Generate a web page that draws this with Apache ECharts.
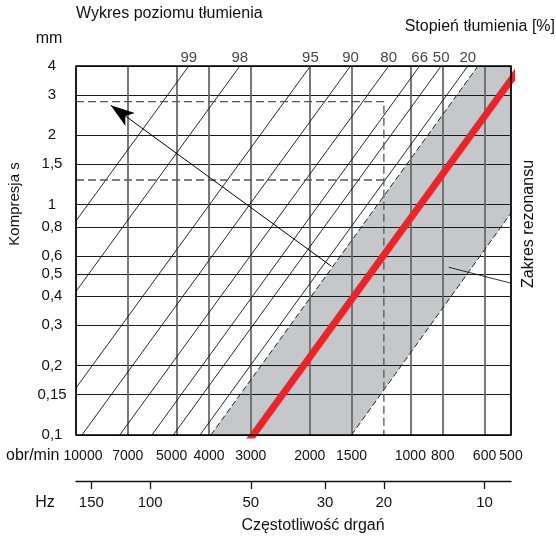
<!DOCTYPE html>
<html><head><meta charset="utf-8">
<script src="https://cdn.jsdelivr.net/npm/echarts@6/dist/echarts.min.js"></script>
<style>html,body{margin:0;padding:0;background:#fff}#c{width:556px;height:538px}</style>
</head><body><div id="c"></div>
<script>
// ---- data ----
const rpmTicks = [10000, 7000, 5000, 4000, 3000, 2000, 1500, 1000, 800, 600, 500];
const hzTicks = [150, 100, 50, 30, 20, 10];
const sTicks = [0.1, 0.15, 0.2, 0.3, 0.4, 0.5, 0.6, 0.8, 1, 1.5, 2, 3, 4];
const hzRange = [8.33, 166.67];
const rpmRange = [500, 10000];
const sRange = [0.1, 4];

const dampLabels = ['99', '98', '95', '90', '80', '66', '50', '20'];
const dampTopRpm = [4600, 3236, 1990, 1510, 1161, 938, 809, 673];
const dampTopS = [4, 4, 4, 4, 4, 4, 4, 4];
const dampEndRpm = [10000, 10000, 10000, 9600, 7400, 5932, 5117, 4257];
const dampEndS = [0.85, 0.42, 0.16, 0.1, 0.1, 0.1, 0.1, 0.1];

const resonanceBand = [[3950, 0.1], [628, 4], [500, 4], [500, 0.92], [1500, 0.1]];
const bandEdgeLeft = [[3950, 0.1], [628, 4]];
const bandEdgeRight = [[1500, 0.1], [500, 0.92]];
const resonanceLine = [[3300, 0.08], [470, 3.94]];
const exampleUpper = [[10000, 2.8], [1200, 2.8], [1200, 0.1]];
const exampleLower = [[10000, 1.28], [1200, 1.28]];
const arrowLine = [[1722, 0.54], [7873, 2.70]];
const leaderLine = [[768, 0.535], [473, 0.447]];

// ---- chart ----
const FONT = 'Liberation Sans, Arial, Helvetica, sans-serif';
const chart = echarts.init(document.getElementById('c'), null, {renderer: 'canvas'});

function comma(v) { return String(v).replace('.', ','); }

const series = [];
series.push({
  type: 'custom', coordinateSystem: 'cartesian2d', xAxisIndex: 0, yAxisIndex: 0,
  z: 1, silent: true,
  data: [resonanceBand[0]],
  renderItem: function (params, api) {
    return {
      type: 'polygon',
      shape: {points: resonanceBand.map(p => api.coord(p))},
      style: {fill: '#c6c7ca', stroke: null}
    };
  }
});
dampLabels.forEach((lab, i) => {
  series.push({
    type: 'line', xAxisIndex: 0, yAxisIndex: 0, z: 3, silent: true,
    symbol: 'none', animation: false,
    lineStyle: {color: '#111', width: 0.9},
    data: [[dampTopRpm[i], dampTopS[i]], [dampEndRpm[i], dampEndS[i]]]
  });
});
series.push({
  type: 'scatter', xAxisIndex: 0, yAxisIndex: 0, z: 3, silent: true, clip: false,
  symbolSize: 0.1, itemStyle: {color: 'rgba(0,0,0,0)'},
  label: {show: true, position: 'top', distance: 1, color: '#111', fontSize: 15, fontFamily: FONT,
    formatter: p => p.value[2]},
  data: dampTopRpm.map((r, i) => [r, dampTopS[i], dampLabels[i]])
});
[bandEdgeLeft, bandEdgeRight].forEach(d => series.push({
  type: 'line', xAxisIndex: 0, yAxisIndex: 0, z: 3, silent: true, symbol: 'none',
  lineStyle: {color: '#222', width: 1, type: [6, 3]}, data: d
}));
[exampleUpper, exampleLower].forEach(d => series.push({
  type: 'line', xAxisIndex: 0, yAxisIndex: 0, z: 3, silent: true, symbol: 'none',
  lineStyle: {color: '#555', width: 1.3, type: [8, 4]}, data: d
}));
series.push({
  type: 'line', xAxisIndex: 0, yAxisIndex: 0, z: 5, silent: true, symbol: 'none',
  lineStyle: {color: '#e8252b', width: 7, cap: 'butt'}, data: resonanceLine
});
series.push({
  type: 'line', xAxisIndex: 0, yAxisIndex: 0, z: 6, silent: true, symbol: 'none',
  lineStyle: {opacity: 0}, data: arrowLine,
  markLine: {
    silent: true, animation: false, symbol: ['none', 'arrow'], symbolSize: [12, 24],
    label: {show: false}, lineStyle: {color: '#000', width: 1, type: 'solid'},
    itemStyle: {color: '#000'},
    emphasis: {disabled: true},
    data: [[{coord: arrowLine[0]}, {coord: arrowLine[1]}]]
  }
});
series.push({
  type: 'line', xAxisIndex: 0, yAxisIndex: 0, z: 6, silent: true, symbol: 'none', clip: false,
  lineStyle: {color: '#000', width: 0.8}, data: leaderLine
});

const option = {
  animation: false,
  backgroundColor: '#fff',
  textStyle: {fontFamily: FONT},
  grid: [
    {left: 76, right: 45, top: 66, height: 369, show: true, borderColor: '#000', borderWidth: 1.5,
      backgroundColor: 'transparent', z: 10},
    {left: 76, right: 45, top: 480, height: 1, show: false}
  ],
  xAxis: [
    {
      gridIndex: 0, type: 'log', logBase: 10, inverse: true, min: rpmRange[0], max: rpmRange[1], z: 2,
      axisLine: {show: false},
      axisTick: {show: false, customValues: rpmTicks},
      axisLabel: {
        customValues: rpmTicks, fontSize: 14, margin: 14, color: '#111', fontFamily: FONT,
        formatter: v => v === 10000 ? '{a|10000}' : (v === 5000 ? '{b|5000}' : String(v)),
        rich: {
          a: {padding: [0, 0, 0, 14], fontSize: 14, fontFamily: FONT, color: '#111'},
          b: {padding: [0, 10, 0, 0], fontSize: 14, fontFamily: FONT, color: '#111'}
        }
      },
      splitLine: {show: true, lineStyle: {color: '#6a6a6a', width: 1.8}}
    },
    {
      gridIndex: 1, type: 'log', logBase: 10, inverse: true, min: hzRange[0], max: hzRange[1],
      axisLine: {show: true, lineStyle: {color: '#111', width: 1.3}},
      axisTick: {show: true, customValues: hzTicks, length: 8, lineStyle: {color: '#111', width: 1.3}},
      axisLabel: {customValues: hzTicks, fontSize: 15, margin: 14, color: '#111', fontFamily: FONT},
      splitLine: {show: false}
    }
  ],
  yAxis: [
    {
      gridIndex: 0, type: 'log', logBase: 10, min: sRange[0], max: sRange[1], z: 2,
      axisLine: {show: false},
      axisTick: {show: false, customValues: sTicks},
      axisLabel: {customValues: sTicks, fontSize: 15, margin: 24, align: 'center', color: '#111',
        fontFamily: FONT, formatter: v => comma(v)},
      splitLine: {show: true, lineStyle: {color: '#1a1a1a', width: 1.2}}
    },
    {gridIndex: 1, type: 'value', show: false, min: 0, max: 1}
  ],
  graphic: [
    {type: 'text', x: 76, y: 14, style: {text: 'Wykres poziomu tłumienia', fontSize: 16, fontFamily: FONT, fill: '#111', align: 'left', verticalAlign: 'middle'}},
    {type: 'text', x: 555, y: 27, style: {text: 'Stopień tłumienia [%]', fontSize: 16, fontFamily: FONT, fill: '#111', align: 'right', verticalAlign: 'middle'}},
    {type: 'text', x: 49, y: 39, style: {text: 'mm', fontSize: 16, fontFamily: FONT, fill: '#111', align: 'center', verticalAlign: 'middle'}},
    {type: 'text', x: 15, y: 204, rotation: Math.PI / 2, style: {text: 'Kompresja s', fontSize: 15, fontFamily: FONT, fill: '#111', align: 'center', verticalAlign: 'middle'}},
    {type: 'text', x: 6, y: 456, style: {text: 'obr/min', fontSize: 16, fontFamily: FONT, fill: '#111', align: 'left', verticalAlign: 'middle'}},
    {type: 'text', x: 45, y: 503, style: {text: 'Hz', fontSize: 16, fontFamily: FONT, fill: '#111', align: 'center', verticalAlign: 'middle'}},
    {type: 'text', x: 313, y: 526, style: {text: 'Częstotliwość drgań', fontSize: 16, fontFamily: FONT, fill: '#111', align: 'center', verticalAlign: 'middle'}},
    {type: 'text', x: 529, y: 224, rotation: Math.PI / 2, style: {text: 'Zakres rezonansu', fontSize: 16, fontFamily: FONT, fill: '#111', align: 'center', verticalAlign: 'middle'}}
  ],
  series: series
};
chart.setOption(option);
</script>
</body></html>
